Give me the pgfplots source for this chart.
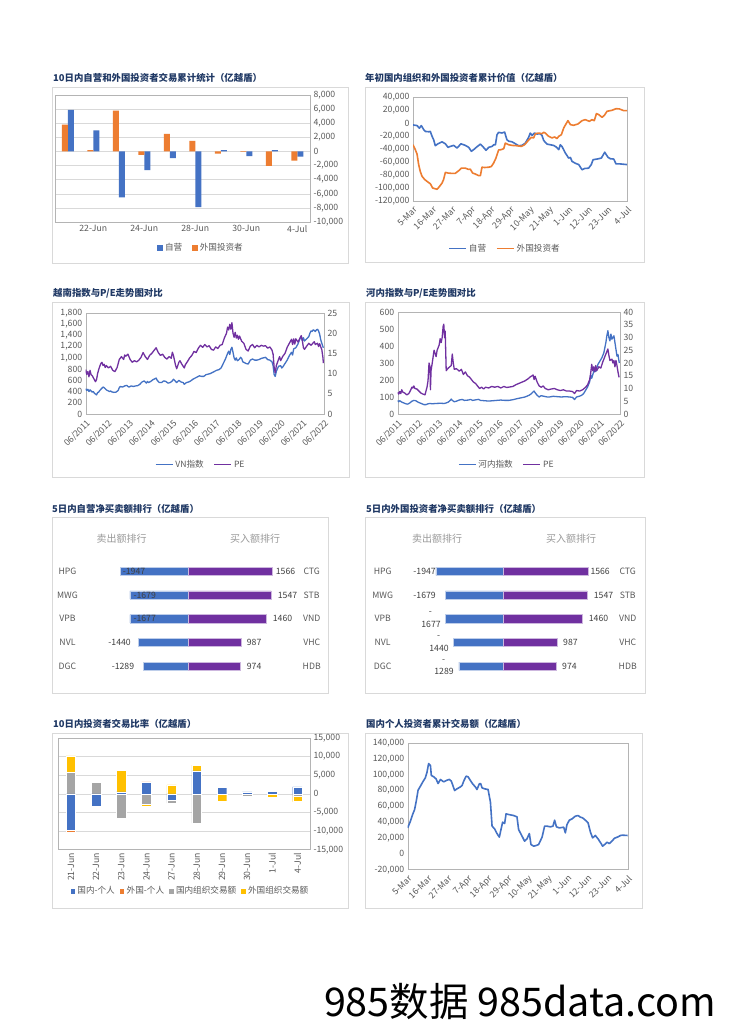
\documentclass[border=0pt]{standalone}
\usepackage{pgfplots}
\pgfplotsset{compat=1.18}
\usepackage{fontspec}
\setmainfont{Noto Sans CJK SC}
\definecolor{cBlue}{HTML}{4472C4}
\definecolor{cOrange}{HTML}{ED7D31}
\definecolor{cGray}{HTML}{A5A5A5}
\definecolor{cGold}{HTML}{FFC000}
\definecolor{cPurple}{HTML}{7030A0}
\definecolor{cTitle}{HTML}{1F3864}
\definecolor{cText}{HTML}{595959}
\definecolor{cGrid}{HTML}{D9D9D9}
\definecolor{cFrame}{HTML}{D9D9D9}
\definecolor{cAxis}{HTML}{B4B4B4}
\pgfplotsset{
  base/.style={scale only axis, anchor=south west,
    axis line style={draw=cAxis},
    major tick length=0pt, minor tick length=0pt,
    tick label style={font=\fontsize{8.7}{10}\selectfont, text=cText},
    scaled y ticks=false,
    legend style={draw=none, fill=none, font=\fontsize{8.6}{10}\selectfont, text=cText,
      legend columns=-1, /tikz/every even column/.append style={column sep=8pt}},
  },
  sqleg/.style={legend image code/.code={\fill[##1] (0pt,-2.8pt) rectangle (5.6pt,2.8pt);}},
  lineleg/.style={legend image code/.code={\draw[##1] (0pt,0pt) -- (17pt,0pt);}},
}
\tikzset{title/.style={anchor=west, text=cTitle, font=\fontsize{9.4}{11}\selectfont\bfseries, inner sep=0pt},
  frame/.style={draw=cFrame, line width=0.8pt},
  rowlab/.style={text=cText, font=\fontsize{8.7}{10}\selectfont, inner sep=0pt},
  vallab/.style={text=black!75, font=\fontsize{8.7}{10}\selectfont, inner sep=0pt},
  head/.style={text=black!40, font=\fontsize{10}{12}\selectfont, inner sep=0pt}}
\begin{document}
\begin{tikzpicture}[x=1pt,y=1pt]
\fill[white] (0,0) rectangle (729,1032);
\useasboundingbox (0,0) rectangle (729,1032);
% frames
\draw[frame] (52,769) rectangle (348,945);
\draw[frame] (365,770) rectangle (644,945);
\draw[frame] (52,555) rectangle (349,730);
\draw[frame] (365,555) rectangle (644,730);
\draw[frame] (52,339) rectangle (328,515);
\draw[frame] (365,339) rectangle (645,515);
\draw[frame] (52,124) rectangle (348,299);
\draw[frame] (365,124) rectangle (642,299);
% titles
\node[title] at (53,954.5) {10日内自营和外国投资者交易累计统计（亿越盾）};
\node[title] at (365,953.7) {年初国内组织和外国投资者累计价值（亿越盾）};
\node[title] at (53,739) {越南指数与P/E走势图对比};
\node[title] at (366,739) {河内指数与P/E走势图对比};
\node[title] at (52,523.3) {5日内自营净买卖额排行（亿越盾）};
\node[title] at (366,523.3) {5日内外国投资者净买卖额排行（亿越盾）};
\node[title] at (53,308.3) {10日内投资者交易比率（亿越盾）};
\node[title] at (366,308.3) {国内个人投资者累计交易额（亿越盾）};

% ---------- Panel 1
\begin{axis}[base, at={(55pt,810pt)}, width=255pt, height=127pt,
  xmin=0.5, xmax=10.5, ymin=-10000, ymax=8000,
  ytick={-10000,-8000,-6000,-4000,-2000,0,2000,4000,6000,8000},
  yticklabels={{-10,000},{-8,000},{-6,000},{-4,000},{-2,000},0,{2,000},{4,000},{6,000},{8,000}},
  yticklabel pos=right, ymajorgrids, grid style={cGrid},
  xtick={2,4,6,8,10}, xticklabels={22-Jun,24-Jun,28-Jun,30-Jun,4-Jul},
  ybar=0pt, bar width=6pt,
  legend style={at={(0.573,-0.205)}, anchor=center}]
\addplot[fill=cBlue, draw=none, bar shift=3pt, sqleg] coordinates {(1,5900) (2,3000) (3,-6500) (4,-2650) (5,-950) (6,-7900) (7,200) (8,-650) (9,200) (10,-750)};
\addlegendentry{自营}
\addplot[fill=cOrange, draw=none, bar shift=-3pt, sqleg] coordinates {(1,3800) (2,200) (3,5800) (4,-500) (5,2500) (6,1500) (7,-300) (8,-50) (9,-2050) (10,-1300)};
\addlegendentry{外国投资者}
\end{axis}

% ---------- Panel 2
\begin{axis}[base, at={(413pt,831pt)}, width=214pt, height=104pt,
  xmin=0, xmax=121, ymin=-120000, ymax=40000,
  ytick={-120000,-100000,-80000,-60000,-40000,-20000,0,20000,40000},
  yticklabels={{-120,000},{-100,000},{-80,000},{-60,000},{-40,000},{-20,000},0,{20,000},{40,000}},
  xtick={0,11,22,33,44,55,66,77,88,99,110,121}, xticklabels={5-Mar,16-Mar,27-Mar,7-Apr,18-Apr,29-Apr,10-May,21-May,1-Jun,12-Jun,23-Jun,4-Jul},
  xticklabel style={rotate=45, anchor=north east},
  legend style={at={(0.43,-0.455)}, anchor=center}]
\addplot[cBlue, line width=1.6pt, line join=round, lineleg] coordinates {
(0,-3000) (2.3,-4000) (3.6,-8000) (4.7,-4000) (6.0,-10000) (7.0,-13000) (8.9,-13500) (9.8,-13000) (10.7,-20000) (11.7,-26000) (12.6,-35000) (14.1,-32000) (16.4,-29000) (18.3,-32000) (19.8,-37500) (21.1,-36000) (23.0,-34500) (24.9,-38500) (27.1,-32000) (29.6,-34500) (31.5,-37500) (33.0,-43500) (34.3,-41000) (36.2,-36500) (38.1,-32500) (39.4,-36000) (41.3,-42000) (42.8,-37500) (44.7,-36000) (45.6,-33500) (46.6,-33500) (47.5,-18000) (48.4,-14400) (50.3,-15400) (51.8,-14000) (53.1,-25700) (54.1,-28000) (56.0,-29000) (57.9,-32000) (59.7,-35000) (61.6,-34500) (63.5,-31000) (65.4,-22000) (66.3,-15500) (67.3,-19000) (68.6,-15500) (70.1,-17000) (72.0,-16500) (72.9,-19000) (73.9,-27000) (75.8,-32500) (77.6,-33500) (79.5,-34500) (81.0,-37000) (82.4,-41000) (83.3,-33500) (84.2,-36000) (86.1,-46000) (88.0,-54000) (89.0,-53000) (89.9,-59000) (91.8,-62000) (93.7,-64000) (95.6,-72000) (97.1,-70000) (99.3,-69500) (100.8,-64000) (101.8,-56500) (104.0,-55500) (106.5,-54000) (108.4,-45000) (110.3,-53000) (111.6,-55000) (113.5,-55500) (114.8,-63000) (117.2,-63000) (121,-64000)};
\addlegendentry{自营}
\addplot[cOrange, line width=1.6pt, line join=round, lineleg] coordinates {
(0,-33500) (1.3,-41000) (2.3,-48000) (3.2,-64000) (4.1,-74500) (5.1,-82000) (6.6,-87000) (8.5,-91000) (9.8,-93500) (11.1,-100000) (12.3,-101000) (13.6,-102000) (14.9,-98000) (16.4,-92500) (17.3,-87000) (18.3,-76000) (19.8,-77000) (21.7,-77500) (23.9,-77500) (25.8,-73500) (27.3,-69500) (29.6,-69500) (31.5,-71500) (32.4,-71000) (33.7,-77000) (35.2,-78500) (37.1,-81000) (38.1,-81000) (39.0,-68000) (40.5,-68500) (42.8,-68000) (44.3,-67000) (45.6,-61500) (46.9,-54000) (48.4,-41500) (49.9,-41000) (51.3,-39500) (52.2,-31000) (54.1,-33500) (56.0,-34500) (58.8,-35000) (61.3,-36000) (63.1,-33500) (65.0,-27500) (66.9,-22000) (68.2,-23000) (69.2,-16500) (71.1,-15500) (72.9,-16500) (73.9,-14400) (74.8,-15500) (76.7,-20500) (78.6,-23000) (80.1,-21500) (81.4,-24000) (82.4,-20500) (83.9,-18000) (85.2,-7700) (86.5,-1500) (87.6,3600) (89.0,-2500) (90.8,-3600) (93.3,-1500) (95.6,3600) (97.4,5100) (99.7,2600) (101.2,5100) (102.5,3600) (103.7,14400) (105.0,12900) (106.9,8700) (108.2,11800) (109.7,18000) (112.5,19500) (114.8,22000) (116.7,21600) (119.1,19000) (121,19000)};
\addlegendentry{外国投资者}
\end{axis}

% ---------- Panel 3
\begin{axis}[base, at={(85.7pt,618pt)}, width=238.3pt, height=101pt,
  xmin=2011.5, xmax=2022.5, ymin=0, ymax=1800,
  ytick={0,200,400,600,800,1000,1200,1400,1600,1800},
  yticklabels={0,200,400,600,800,{1,000},{1,200},{1,400},{1,600},{1,800}},
  xtick={2011.5,2012.5,2013.5,2014.5,2015.5,2016.5,2017.5,2018.5,2019.5,2020.5,2021.5,2022.5},
  xticklabels={06/2011,06/2012,06/2013,06/2014,06/2015,06/2016,06/2017,06/2018,06/2019,06/2020,06/2021,06/2022},
  xticklabel style={rotate=45, anchor=north east}]
\addplot[cBlue, line width=1.3pt, line join=round] coordinates {
(2011.50,450) (2011.55,420) (2011.60,440) (2011.65,400) (2011.70,430) (2011.75,410) (2011.80,390) (2011.85,400) (2011.90,370) (2011.95,355) (2012.00,340) (2012.05,380) (2012.10,390) (2012.15,420) (2012.20,440) (2012.25,460) (2012.30,480) (2012.35,470) (2012.40,450) (2012.45,430) (2012.50,420) (2012.55,410) (2012.60,400) (2012.65,410) (2012.70,395) (2012.80,385) (2012.90,390) (2013.00,420) (2013.05,470) (2013.10,490) (2013.20,480) (2013.30,500) (2013.40,510) (2013.45,490) (2013.50,480) (2013.60,500) (2013.70,490) (2013.80,500) (2013.90,505) (2014.00,530) (2014.10,570) (2014.20,590) (2014.30,550) (2014.35,580) (2014.40,560) (2014.50,580) (2014.60,610) (2014.70,630) (2014.75,640) (2014.80,600) (2014.90,560) (2015.00,560) (2015.10,590) (2015.20,580) (2015.30,550) (2015.40,560) (2015.50,590) (2015.55,620) (2015.60,600) (2015.70,560) (2015.75,580) (2015.80,600) (2015.90,570) (2016.00,560) (2016.05,530) (2016.15,560) (2016.25,570) (2016.35,590) (2016.45,620) (2016.55,640) (2016.65,660) (2016.75,680) (2016.85,670) (2016.95,670) (2017.05,700) (2017.15,710) (2017.25,720) (2017.35,740) (2017.45,760) (2017.55,780) (2017.65,790) (2017.75,820) (2017.85,900) (2017.95,980) (2018.05,1080) (2018.10,1120) (2018.15,1060) (2018.20,1150) (2018.25,1190) (2018.30,1100) (2018.35,1000) (2018.40,960) (2018.45,1000) (2018.50,950) (2018.55,960) (2018.60,980) (2018.65,1010) (2018.70,990) (2018.75,930) (2018.80,920) (2018.90,900) (2019.00,890) (2019.10,960) (2019.20,980) (2019.30,960) (2019.40,960) (2019.50,970) (2019.60,990) (2019.70,1000) (2019.80,1010) (2019.90,970) (2020.00,960) (2020.10,930) (2020.15,860) (2020.20,700) (2020.25,670) (2020.30,760) (2020.40,850) (2020.50,860) (2020.55,820) (2020.60,840) (2020.70,900) (2020.80,960) (2020.90,1040) (2021.00,1100) (2021.05,1050) (2021.10,1160) (2021.20,1180) (2021.30,1250) (2021.40,1350) (2021.45,1380) (2021.50,1300) (2021.55,1360) (2021.60,1300) (2021.70,1340) (2021.80,1380) (2021.85,1440) (2021.90,1480) (2021.95,1470) (2022.00,1500) (2022.05,1490) (2022.10,1470) (2022.15,1500) (2022.20,1510) (2022.25,1480) (2022.30,1420) (2022.35,1320) (2022.40,1260) (2022.45,1200) (2022.47,1180)};
\end{axis}
\begin{axis}[base, at={(85.7pt,618pt)}, width=238.3pt, height=101pt,
  xmin=2011.5, xmax=2022.5, ymin=0, ymax=25,
  ytick={0,5,10,15,20,25}, yticklabels={0,5,10,15,20,25},
  axis y line*=right, axis x line=none,
  legend style={at={(0.483,-0.502)}, anchor=center}]
\addlegendimage{cBlue, line width=1.3pt, lineleg}
\addlegendentry{VN指数}
\addplot[cPurple, line width=1.3pt, line join=round, lineleg] coordinates {
(2011.50,11.0) (2011.55,9.8) (2011.60,10.5) (2011.65,9.2) (2011.70,10.8) (2011.75,9.7) (2011.80,9.5) (2011.85,9.0) (2011.90,8.5) (2011.95,8.0) (2012.00,8.5) (2012.05,10.0) (2012.10,11.0) (2012.15,11.8) (2012.20,12.5) (2012.25,12.8) (2012.30,12.0) (2012.35,12.3) (2012.40,11.5) (2012.45,12.0) (2012.55,11.4) (2012.65,11.8) (2012.75,10.8) (2012.85,10.5) (2012.95,11.5) (2013.05,13.5) (2013.15,14.2) (2013.25,13.5) (2013.30,14.6) (2013.35,14.3) (2013.45,14.8) (2013.55,13.5) (2013.65,12.8) (2013.75,13.2) (2013.85,12.9) (2013.95,13.3) (2014.05,14.0) (2014.15,15.2) (2014.25,14.2) (2014.35,13.5) (2014.45,14.5) (2014.55,15.0) (2014.65,15.7) (2014.75,16.4) (2014.85,15.2) (2014.95,14.5) (2015.05,14.8) (2015.15,14.0) (2015.25,13.6) (2015.35,14.2) (2015.45,13.8) (2015.50,15.3) (2015.55,14.5) (2015.65,12.0) (2015.70,11.2) (2015.80,12.8) (2015.85,13.2) (2015.95,12.2) (2016.05,11.4) (2016.10,12.2) (2016.20,13.0) (2016.30,13.9) (2016.40,14.5) (2016.50,15.5) (2016.60,15.2) (2016.70,16.3) (2016.80,17.0) (2016.90,16.5) (2017.00,17.2) (2017.10,16.6) (2017.20,16.9) (2017.30,16.0) (2017.40,15.8) (2017.50,16.6) (2017.60,16.2) (2017.70,17.0) (2017.80,17.2) (2017.90,18.8) (2018.00,20.0) (2018.05,21.5) (2018.10,20.8) (2018.15,22.2) (2018.20,21.0) (2018.25,22.6) (2018.30,20.0) (2018.35,19.0) (2018.40,20.2) (2018.45,18.8) (2018.50,19.5) (2018.55,18.5) (2018.60,19.3) (2018.70,18.0) (2018.80,17.5) (2018.90,16.0) (2019.00,15.6) (2019.10,16.8) (2019.20,17.2) (2019.30,16.4) (2019.40,17.0) (2019.50,16.6) (2019.60,17.0) (2019.70,16.8) (2019.80,16.9) (2019.90,16.3) (2020.00,16.6) (2020.10,15.8) (2020.15,14.8) (2020.20,11.5) (2020.25,10.2) (2020.30,12.0) (2020.40,13.5) (2020.45,14.2) (2020.50,13.2) (2020.60,14.3) (2020.70,15.0) (2020.80,16.5) (2020.90,17.5) (2021.00,18.5) (2021.05,17.2) (2021.10,18.6) (2021.15,17.3) (2021.20,18.6) (2021.30,17.8) (2021.40,18.9) (2021.45,19.4) (2021.50,18.2) (2021.55,16.4) (2021.60,16.0) (2021.70,16.8) (2021.80,17.5) (2021.90,17.0) (2022.00,17.6) (2022.05,17.9) (2022.10,17.2) (2022.20,17.5) (2022.25,16.7) (2022.30,17.4) (2022.35,16.6) (2022.40,15.9) (2022.45,14.0) (2022.47,12.6)};
\addlegendentry{PE}
\end{axis}

% ---------- Panel 4
\begin{axis}[base, at={(397.7pt,618pt)}, width=222.3pt, height=102pt,
  xmin=2011.5, xmax=2022.5, ymin=0, ymax=600,
  ytick={0,100,200,300,400,500,600}, yticklabels={0,100,200,300,400,500,600},
  xtick={2011.5,2012.5,2013.5,2014.5,2015.5,2016.5,2017.5,2018.5,2019.5,2020.5,2021.5,2022.5},
  xticklabels={06/2011,06/2012,06/2013,06/2014,06/2015,06/2016,06/2017,06/2018,06/2019,06/2020,06/2021,06/2022},
  xticklabel style={rotate=45, anchor=north east}]
\addplot[cBlue, line width=1.3pt, line join=round] coordinates {
(2011.50,80) (2011.55,72) (2011.60,78) (2011.70,70) (2011.80,65) (2011.90,60) (2012.00,58) (2012.10,65) (2012.20,75) (2012.30,80) (2012.40,78) (2012.50,70) (2012.60,65) (2012.70,60) (2012.80,55) (2012.90,55) (2013.00,60) (2013.10,62) (2013.20,60) (2013.40,62) (2013.60,63) (2013.80,62) (2013.90,65) (2014.00,70) (2014.10,80) (2014.15,88) (2014.20,80) (2014.30,72) (2014.40,75) (2014.50,80) (2014.60,84) (2014.70,85) (2014.80,80) (2015.00,82) (2015.10,86) (2015.20,80) (2015.40,84) (2015.50,86) (2015.60,80) (2015.80,78) (2016.00,76) (2016.20,78) (2016.40,80) (2016.60,82) (2016.80,80) (2017.00,80) (2017.20,84) (2017.40,90) (2017.60,95) (2017.80,100) (2018.00,110) (2018.10,118) (2018.20,130) (2018.25,135) (2018.30,125) (2018.40,110) (2018.50,100) (2018.60,108) (2018.70,105) (2018.90,100) (2019.00,100) (2019.20,104) (2019.40,102) (2019.60,100) (2019.80,102) (2020.00,100) (2020.15,98) (2020.25,85) (2020.35,100) (2020.50,105) (2020.60,110) (2020.70,120) (2020.80,140) (2020.90,160) (2021.00,190) (2021.05,230) (2021.10,210) (2021.20,250) (2021.25,270) (2021.30,250) (2021.40,290) (2021.50,310) (2021.60,330) (2021.70,360) (2021.80,420) (2021.85,460) (2021.90,490) (2021.95,450) (2022.00,430) (2022.05,470) (2022.10,440) (2022.15,450) (2022.20,460) (2022.25,420) (2022.30,380) (2022.35,340) (2022.40,350) (2022.45,310) (2022.47,300)};
\end{axis}
\begin{axis}[base, at={(397.7pt,618pt)}, width=222.3pt, height=102pt,
  xmin=2011.5, xmax=2022.5, ymin=0, ymax=40,
  ytick={0,5,10,15,20,25,30,35,40}, yticklabels={0,5,10,15,20,25,30,35,40},
  axis y line*=right, axis x line=none,
  legend style={at={(0.491,-0.497)}, anchor=center}]
\addlegendimage{cBlue, line width=1.3pt, lineleg}
\addlegendentry{河内指数}
\addplot[cPurple, line width=1.3pt, line join=round, lineleg] coordinates {
(2011.50,8.5) (2011.55,7.8) (2011.60,8.8) (2011.65,8.0) (2011.70,9.5) (2011.75,8.6) (2011.85,8.2) (2011.95,7.5) (2012.05,8.0) (2012.15,9.5) (2012.20,10.5) (2012.25,10.2) (2012.30,11.0) (2012.35,10.0) (2012.45,9.8) (2012.55,9.0) (2012.65,8.2) (2012.75,7.8) (2012.85,7.5) (2012.95,10.5) (2013.00,13.0) (2013.05,20.0) (2013.10,18.5) (2013.12,9.5) (2013.15,17.0) (2013.20,19.5) (2013.30,25.0) (2013.40,22.5) (2013.45,25.0) (2013.55,27.0) (2013.60,29.5) (2013.65,28.0) (2013.70,30.0) (2013.75,34.5) (2013.78,35.2) (2013.82,30.0) (2013.85,32.5) (2013.90,17.0) (2014.00,18.0) (2014.15,19.0) (2014.20,23.5) (2014.25,20.0) (2014.30,17.5) (2014.40,17.8) (2014.55,16.8) (2014.65,17.5) (2014.75,15.5) (2014.85,16.5) (2014.95,15.0) (2015.05,14.5) (2015.15,13.5) (2015.25,12.5) (2015.35,12.0) (2015.45,11.0) (2015.55,10.0) (2015.65,10.5) (2015.75,9.8) (2015.85,10.5) (2016.00,10.2) (2016.15,10.8) (2016.30,10.5) (2016.45,10.8) (2016.60,10.2) (2016.75,10.8) (2016.90,10.4) (2017.05,10.6) (2017.20,10.8) (2017.35,11.5) (2017.50,12.0) (2017.65,12.5) (2017.80,13.0) (2017.95,13.8) (2018.05,14.5) (2018.15,15.0) (2018.20,15.3) (2018.25,13.5) (2018.30,14.8) (2018.40,12.5) (2018.50,11.0) (2018.60,10.5) (2018.70,11.0) (2018.80,10.0) (2018.95,9.5) (2019.10,9.8) (2019.25,10.0) (2019.40,9.5) (2019.55,9.2) (2019.70,9.5) (2019.85,9.0) (2020.00,9.0) (2020.15,8.8) (2020.25,8.0) (2020.35,9.2) (2020.50,9.0) (2020.65,9.5) (2020.80,10.5) (2020.90,11.5) (2021.00,13.5) (2021.05,16.0) (2021.10,19.5) (2021.15,17.0) (2021.20,18.5) (2021.25,16.5) (2021.30,19.0) (2021.35,17.0) (2021.45,18.5) (2021.55,18.0) (2021.65,20.5) (2021.75,22.5) (2021.85,24.5) (2021.90,25.5) (2021.95,23.0) (2022.00,21.0) (2022.10,21.5) (2022.15,20.0) (2022.20,21.0) (2022.25,18.5) (2022.30,21.0) (2022.35,19.0) (2022.40,16.5) (2022.45,14.5) (2022.47,14.5)};
\addlegendentry{PE}
\end{axis}

% ---------- Panel 5
\node[head] at (121.7,493.3) {卖出额排行};
\node[head] at (255,493.3) {买入额排行};
\foreach \t/\y in {HPG/460.7,MWG/436.7,VPB/413.3,NVL/389.7,DGC/365.7} {\node[rowlab] at (67.5,\y) {\t};}
\foreach \t/\y in {CTG/460.7,STB/436.7,VND/413.3,VHC/389.7,HDB/365.7} {\node[rowlab] at (311.7,\y) {\t};}
\begin{axis}[scale only axis, anchor=south west, at={(110pt,353.9pt)}, width=78pt, height=118.75pt,
  hide axis, xmin=-2254, xmax=0, ymin=0.5, ymax=5.5, xbar, bar width=8.3pt, clip=false]
\addplot[fill=cBlue, draw=cBlue!35!white, line width=0.5pt] coordinates {(-1947,5) (-1679,4) (-1677,3) (-1440,2) (-1289,1)};
\end{axis}
\begin{axis}[scale only axis, anchor=south west, at={(188pt,353.9pt)}, width=102pt, height=118.75pt,
  hide axis, xmin=0, xmax=1899, ymin=0.5, ymax=5.5, xbar, bar width=8.3pt, clip=false]
\addplot[fill=cPurple, draw=cPurple!35!white, line width=0.5pt] coordinates {(1566,5) (1547,4) (1460,3) (987,2) (974,1)};
\end{axis}
\node[vallab, anchor=west] at (122.7,460.7) {-1947};
\node[vallab, anchor=west] at (133.3,436.7) {-1679};
\node[vallab, anchor=west] at (133.3,413.3) {-1677};
\node[vallab, anchor=east] at (131,389.7) {-1440};
\node[vallab, anchor=east] at (134.3,365.7) {-1289};
\node[vallab, anchor=west] at (275.7,460.7) {1566};
\node[vallab, anchor=west] at (277.7,436.7) {1547};
\node[vallab, anchor=west] at (272.7,413.3) {1460};
\node[vallab, anchor=west] at (246.7,389.7) {987};
\node[vallab, anchor=west] at (246.7,365.7) {974};

% ---------- Panel 6
\node[head] at (437,493.3) {卖出额排行};
\node[head] at (571,493.3) {买入额排行};
\foreach \t/\y in {HPG/460.7,MWG/436.7,VPB/413.3,NVL/389.7,DGC/365.7} {\node[rowlab] at (382.7,\y) {\t};}
\foreach \t/\y in {CTG/460.7,STB/436.7,VND/413.3,VHC/389.7,HDB/365.7} {\node[rowlab] at (627.7,\y) {\t};}
\begin{axis}[scale only axis, anchor=south west, at={(425pt,353.9pt)}, width=78.7pt, height=118.75pt,
  hide axis, xmin=-2261, xmax=0, ymin=0.5, ymax=5.5, xbar, bar width=8.3pt, clip=false]
\addplot[fill=cBlue, draw=cBlue!35!white, line width=0.5pt] coordinates {(-1947,5) (-1679,4) (-1677,3) (-1440,2) (-1289,1)};
\end{axis}
\begin{axis}[scale only axis, anchor=south west, at={(503.7pt,353.9pt)}, width=101.3pt, height=118.75pt,
  hide axis, xmin=0, xmax=1876, ymin=0.5, ymax=5.5, xbar, bar width=8.3pt, clip=false]
\addplot[fill=cPurple, draw=cPurple!35!white, line width=0.5pt] coordinates {(1566,5) (1547,4) (1460,3) (987,2) (974,1)};
\end{axis}
\node[vallab, anchor=east] at (436,460.7) {-1947};
\node[vallab, anchor=east] at (436,436.7) {-1679};
\node[vallab] at (430.3,419) {-};
\node[vallab] at (431,408) {1677};
\node[vallab] at (438.7,394.7) {-};
\node[vallab] at (439,384) {1440};
\node[vallab] at (443.7,371.3) {-};
\node[vallab] at (444,360.7) {1289};
\node[vallab, anchor=west] at (590.3,460.7) {1566};
\node[vallab, anchor=west] at (593.7,436.7) {1547};
\node[vallab, anchor=west] at (588.7,413.3) {1460};
\node[vallab, anchor=west] at (563,389.7) {987};
\node[vallab, anchor=west] at (562,365.7) {974};

% ---------- Panel 7
\begin{axis}[base, at={(58.3pt,182.3pt)}, width=251.7pt, height=111.7pt,
  xmin=0.5, xmax=10.5, ymin=-15000, ymax=15000,
  ytick={-15000,-10000,-5000,0,5000,10000,15000},
  yticklabels={{-15,000},{-10,000},{-5,000},0,{5,000},{10,000},{15,000}},
  yticklabel pos=right, ymajorgrids, grid style={cGrid},
  xtick={1,2,3,4,5,6,7,8,9,10},
  xticklabels={21-Jun,22-Jun,23-Jun,24-Jun,27-Jun,28-Jun,29-Jun,30-Jun,1-Jul,4-Jul},
  xticklabel style={rotate=90, anchor=east},
  ybar stacked, bar width=9.5pt,
  legend style={at={(0.523,-0.37)}, anchor=center, /tikz/every even column/.append style={column sep=2pt}, /tikz/every odd column/.append style={column sep=0pt}}]
\addplot[fill=cBlue, draw=white, line width=0.3pt, sqleg] coordinates {(1,-9850) (2,-3400) (3,540) (4,3050) (5,-1700) (6,6180) (7,1700) (8,540) (9,630) (10,1880)};
\addplot[fill=cOrange, draw=white, line width=0.3pt, sqleg] coordinates {(1,-550) (2,0) (3,0) (4,180) (5,0) (6,0) (7,0) (8,0) (9,0) (10,0)};
\addplot[fill=cGray, draw=white, line width=0.3pt, sqleg] coordinates {(1,5730) (2,3050) (3,-6630) (4,-2690) (5,-800) (6,-7890) (7,0) (8,-540) (9,-100) (10,-720)};
\addplot[fill=cGold, draw=white, line width=0.3pt, sqleg] coordinates {(1,4480) (2,270) (3,5730) (4,-630) (5,2420) (6,1520) (7,-1880) (8,180) (9,-720) (10,-1340)};
\legend{国内-个人,外国-个人,国内组织交易额,外国组织交易额}
\end{axis}

% ---------- Panel 8
\begin{axis}[base, at={(407.7pt,162.3pt)}, width=220pt, height=126.7pt,
  xmin=0, xmax=121, ymin=-20000, ymax=140000,
  ytick={-20000,0,20000,40000,60000,80000,100000,120000,140000},
  yticklabels={{-20,000},0,{20,000},{40,000},{60,000},{80,000},{100,000},{120,000},{140,000}},
  xtick={0,11,22,33,44,55,66,77,88,99,110,121}, xticklabels={5-Mar,16-Mar,27-Mar,7-Apr,18-Apr,29-Apr,10-May,21-May,1-Jun,12-Jun,23-Jun,4-Jul},
  xticklabel style={rotate=45, anchor=north east}]
\addplot[cBlue, line width=1.6pt, line join=round] coordinates {
(0,32800) (1.5,41300) (2.7,49700) (3.8,56000) (4.8,67800) (5.7,80400) (7.0,85500) (8.2,90500) (9.7,96000) (10.6,103000) (11.5,114000) (12.5,111500) (13.0,99000) (14.3,97300) (15.6,94700) (16.7,88800) (18.0,93900) (19.8,91000) (21.6,93000) (22.9,94000) (24.0,91800) (25.8,80000) (27.1,82100) (29.0,84600) (29.9,86300) (30.8,91800) (32.1,98100) (33.2,97300) (34.5,92600) (35.7,88400) (37.2,84600) (38.1,81300) (39.4,88400) (40.1,88800) (40.9,83400) (42.3,82100) (44.2,81300) (45.5,65300) (46.4,35000) (47.8,31600) (49.1,25700) (50.4,21100) (51.5,32800) (52.2,40000) (53.3,38300) (54.1,50500) (55.5,49700) (58.3,48400) (60.1,46700) (61.0,30700) (62.9,22300) (64.3,16000) (65.6,18900) (66.9,25700) (67.8,11800) (69.3,9700) (70.6,10500) (72.0,11800) (73.9,21100) (75.3,35000) (76.6,35000) (78.5,34100) (79.9,35000) (80.8,42500) (81.8,34100) (83.4,32800) (84.9,33300) (85.8,33700) (86.7,26500) (87.6,37000) (88.9,42500) (90.4,44200) (92.2,47600) (93.7,48400) (95.0,46300) (96.2,45500) (97.7,42500) (99.2,39200) (100.5,27400) (101.7,20200) (103.2,23200) (104.7,18900) (106.5,12600) (107.2,9700) (108.7,12600) (109.6,14700) (110.9,13000) (112.4,16400) (113.8,19800) (115.7,21500) (117.0,23200) (118.2,23600) (121,23200)};
\end{axis}

% watermark
\node[anchor=center, font=\fontsize{39.5}{42}\selectfont, text=black, inner sep=0pt] at (520,30.3) {985数据 985data.com};
\end{tikzpicture}
\end{document}
